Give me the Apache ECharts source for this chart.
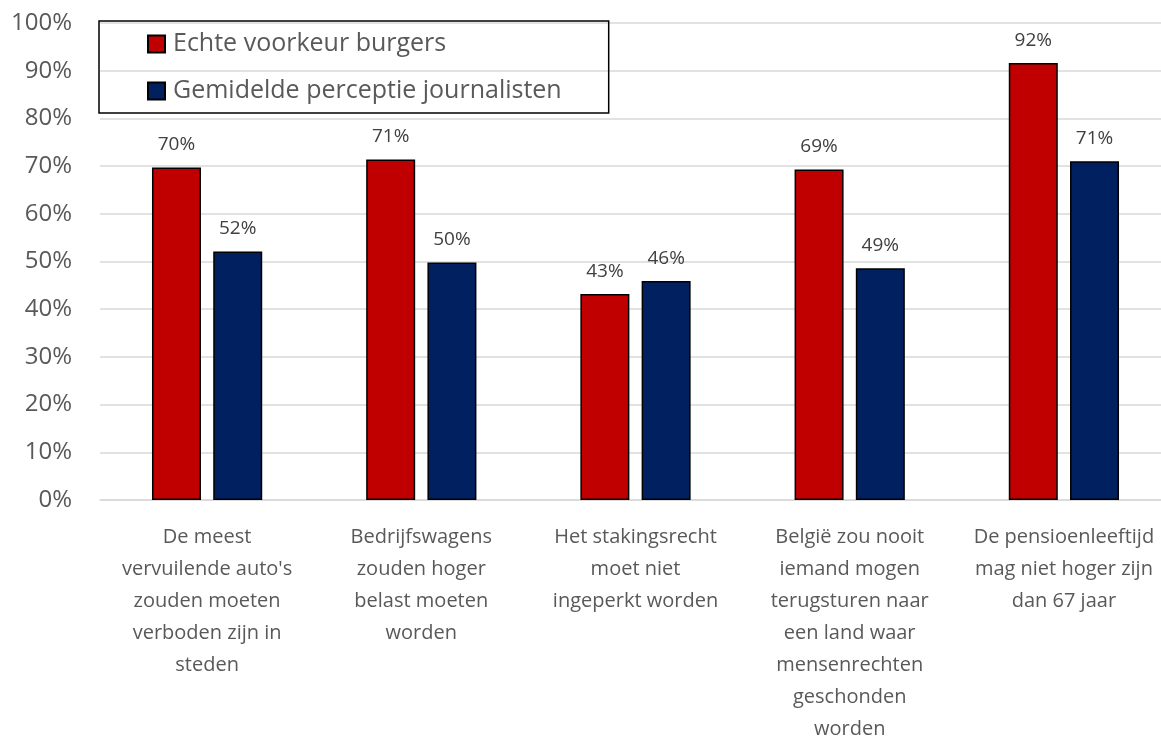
<!DOCTYPE html>
<html>
<head>
<meta charset="utf-8">
<script src="https://cdn.jsdelivr.net/npm/echarts@6/dist/echarts.min.js"></script>
<style>
  html, body { margin: 0; padding: 0; background: #fff; overflow: hidden; }
  #chart { width: 1171px; height: 745px; }
</style>
</head>
<body>
<div id="chart"></div>
<script>
// categories (line breaks as in the original wrap)
var categories = [
  "De meest\nvervuilende auto's\nzouden moeten\nverboden zijn in\nsteden",
  "Bedrijfswagens\nzouden hoger\nbelast moeten\nworden",
  "Het stakingsrecht\nmoet niet\ningeperkt worden",
  "België zou nooit\niemand mogen\nterugsturen naar\neen land waar\nmensenrechten\ngeschonden\nworden",
  "De pensioenleeftijd\nmag niet hoger zijn\ndan 67 jaar"
];
var seriesNames = ["Echte voorkeur burgers", "Gemidelde perceptie journalisten"];
var burgers = [69.7, 71.4, 43.2, 69.3, 91.6];
var journalisten = [52.1, 49.8, 45.9, 48.6, 71.0];
var yTicks = [0, 10, 20, 30, 40, 50, 60, 70, 80, 90, 100];

var font = "'Open Sans', 'Noto Sans', sans-serif";

var chart = echarts.init(document.getElementById("chart"));

function barSeries(name, data, color) {
  return {
    name: name,
    type: "bar",
    data: data,
    barWidth: 49,
    barGap: "25%",
    itemStyle: { color: color, borderColor: "#000", borderWidth: 1.5 },
    label: {
      show: true,
      position: "top",
      distance: 13,
      color: "#404040",
      fontSize: 19,
      fontFamily: font,
      formatter: function (p) { return Math.round(p.value) + "%"; }
    }
  };
}

chart.setOption({
  animation: false,
  textStyle: { fontFamily: font },
  grid: { left: 100, top: 23, right: 0, bottom: 240, containLabel: false },
  legend: {
    orient: "vertical",
    left: 99,
    top: 21,
    padding: [8, 47, 7, 48],
    itemGap: 17,
    itemWidth: 17,
    itemHeight: 17,
    icon: "rect",
    backgroundColor: "transparent",
    borderColor: "#000",
    borderWidth: 1.5,
    textStyle: { color: "#595959", fontSize: 25, lineHeight: 30, fontFamily: font, padding: [0, 0, 0, 3] },
    data: seriesNames
  },
  xAxis: {
    type: "category",
    data: categories,
    axisTick: { show: false },
    axisLine: { lineStyle: { color: "#d9d9d9", width: 1.5 } },
    axisLabel: {
      interval: 0,
      color: "#595959",
      fontSize: 20,
      lineHeight: 32,
      margin: 21,
      fontFamily: font
    }
  },
  yAxis: {
    type: "value",
    min: yTicks[0],
    max: yTicks[yTicks.length - 1],
    interval: 10,
    axisLine: { show: false },
    axisTick: { show: false },
    splitLine: { lineStyle: { color: "#d9d9d9", width: 1.5 } },
    axisLabel: {
      color: "#595959",
      fontSize: 24,
      margin: 28,
      fontFamily: font,
      formatter: "{value}%"
    }
  },
  series: [
    barSeries(seriesNames[0], burgers, "#c00000"),
    barSeries(seriesNames[1], journalisten, "#002060")
  ]
});
</script>
</body>
</html>
